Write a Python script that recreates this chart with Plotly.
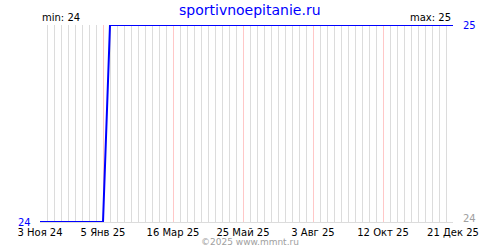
import plotly.graph_objects as go

title_text = "sportivnoepitanie.ru"
dates = ["2024-11-03", "2025-01-05", "2025-01-12", "2025-12-21"]
values = [24, 24, 25, 25]
tick_dates = ["2024-11-03", "2025-01-05", "2025-03-16", "2025-05-25", "2025-08-03", "2025-10-12", "2025-12-21"]
tick_labels = ["3 Ноя 24", "5 Янв 25", "16 Мар 25", "25 Май 25", "3 Авг 25", "12 Окт 25", "21 Дек 25"]
copyright_text = "©2025 www.mmnt.ru"

vmin, vmax = min(values), max(values)
FONT = "DejaVu Sans"
DAY = 86400000

fig = go.Figure()
fig.add_trace(go.Scatter(x=dates, y=values, mode="lines",
                         line=dict(color="#0000ff", width=2), hoverinfo="skip", showlegend=False))

fig.update_layout(
    width=500, height=250,
    margin=dict(l=40, r=47, t=25, b=25, pad=0),
    paper_bgcolor="white", plot_bgcolor="white",
    showlegend=False,
    xaxis=dict(
        range=[dates[0], dates[-1]], type="date",
        tickmode="array", tickvals=tick_dates, ticktext=tick_labels,
        showgrid=True, gridcolor="#ffc8c8", gridwidth=1,
        minor=dict(showgrid=True, gridcolor="#dcdcdc", gridwidth=1, dtick=7 * DAY, tick0=dates[0]),
        ticks="outside", ticklen=1, tickcolor="rgba(0,0,0,0)",
        tickfont=dict(family=FONT, size=10, color="black"),
        showline=True, linecolor="#dcdcdc", linewidth=1,
        zeroline=False, fixedrange=True,
    ),
    yaxis=dict(
        range=[vmin, vmax], showgrid=False, zeroline=False, showticklabels=False,
        showline=False, fixedrange=True,
    ),
    annotations=[
        dict(text=title_text, xref="paper", yref="paper", x=(250 - 40) / 413, y=1, yshift=15,
             xanchor="center", yanchor="middle", showarrow=False,
             font=dict(family=FONT, size=14, color="#0000ff")),
        dict(text=f"min: {vmin}", xref="paper", yref="paper", x=0, y=1, xanchor="left", yanchor="bottom",
             yshift=0, showarrow=False, font=dict(family=FONT, size=10, color="black")),
        dict(text=f"max: {vmax}", xref="paper", yref="paper", x=1, y=1, xanchor="right", yanchor="bottom",
             yshift=0, showarrow=False, font=dict(family=FONT, size=10, color="black")),
        dict(text=str(vmax), xref="paper", yref="y", x=1, y=vmax, xanchor="left", yanchor="middle",
             xshift=8, showarrow=False, font=dict(family=FONT, size=10, color="#0000ff")),
        dict(text=str(vmin), xref="paper", yref="y", x=1, y=vmin, xanchor="left", yanchor="middle",
             xshift=8, yshift=4, showarrow=False, font=dict(family=FONT, size=10, color="#a0a0a0")),
        dict(text=str(vmin), xref="paper", yref="y", x=0, y=vmin, xanchor="right", yanchor="middle",
             xshift=-7, showarrow=False, font=dict(family=FONT, size=10, color="#0000ff")),
        dict(text=copyright_text, xref="paper", yref="paper", x=(250 - 40) / 413, y=0, yshift=-20,
             xanchor="center", yanchor="middle", showarrow=False,
             font=dict(family=FONT, size=9, color="#a0a0a0")),
    ],
)

fig.write_html("out.html")
